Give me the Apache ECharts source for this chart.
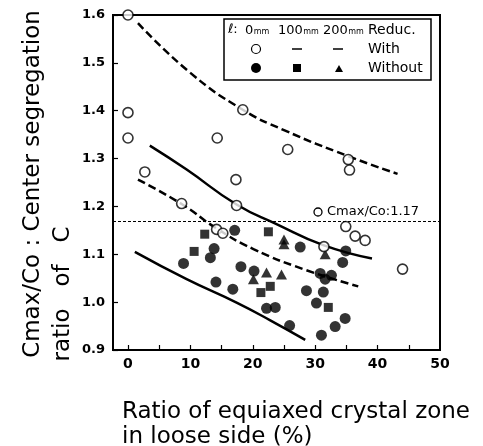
<!DOCTYPE html>
<html>
<head>
<meta charset="utf-8">
<script src="https://cdn.jsdelivr.net/npm/echarts@6/dist/echarts.min.js"></script>
<style>
  html, body { margin: 0; padding: 0; background: #fff; }
  #chart { width: 483px; height: 446px; }
</style>
</head>
<body>
<div id="chart"></div>
<script>
// 数据：ℓ = 0mm / 100mm / 200mm，带压下 (With) 与不带 (Without)
const withReduc0mm = [
  [0, 1.6], [0, 1.396], [0, 1.343], [2.7, 1.272], [8.6, 1.206],
  [14.3, 1.343], [14.2, 1.152], [15.2, 1.144], [17.3, 1.256], [17.4, 1.202],
  [18.4, 1.402], [25.6, 1.319], [31.4, 1.116], [34.9, 1.158], [35.3, 1.298],
  [35.5, 1.276], [36.4, 1.138], [38, 1.129], [44, 1.069]
];
const withoutReduc0mm = [
  [8.9, 1.081], [13.2, 1.093], [13.8, 1.112], [14.1, 1.042], [16.8, 1.027],
  [17.1, 1.15], [18.1, 1.074], [20.2, 1.065], [22.2, 0.987], [23.6, 0.989],
  [25.9, 0.951], [27.6, 1.115], [28.6, 1.024], [30.2, 0.998], [30.8, 1.06],
  [31, 0.931], [31.3, 1.021], [31.6, 1.048], [32.6, 1.056], [33.2, 0.949],
  [34.4, 1.083], [34.8, 0.966], [34.9, 1.107]
];
const withoutReduc100mm = [
  [10.6, 1.106], [12.3, 1.142], [21.3, 1.02], [22.5, 1.147], [22.8, 1.033], [32.1, 0.989]
];
const withoutReduc200mm = [
  [20.1, 1.048], [22.2, 1.062], [24.6, 1.058], [25, 1.131], [25, 1.121], [31.6, 1.1]
];

// 趋势线
const dashUpper = [[1.6, 1.583], [10, 1.479], [18.4, 1.402], [24.9, 1.36], [35.3, 1.305], [43.2, 1.268]];
const solidUpper = [[3.5, 1.327], [9.4, 1.277], [17.4, 1.204], [23.8, 1.163], [31.3, 1.119], [39.1, 1.091]];
const dashLower = [[1.6, 1.256], [8.6, 1.205], [14.2, 1.154], [20.1, 1.111], [28.1, 1.069], [36.9, 1.033]];
const solidLower = [[1.1, 1.105], [9.4, 1.048], [17.4, 0.999], [22.8, 0.962], [28.4, 0.921]];

const refLevel = 1.17;
const xLabels = [0, 10, 20, 30, 40, 50];
const xTicks = [0, 5, 10, 15, 20, 25, 30, 35, 40, 45];

const FONT = 'DejaVu Sans';

const chart = echarts.init(document.getElementById('chart'));

const lineSeries = (data, dashed) => ({
  type: 'line',
  data,
  smooth: 0.5,
  showSymbol: false,
  symbol: 'none',
  silent: true,
  lineStyle: { color: '#000', width: 2.5, type: dashed ? [8, 4] : 'solid' },
  z: 2
});

const txt = (text, x, y, size, extra) => ({
  type: 'text', x, y, z: 11,
  style: Object.assign({ text, font: size + 'px "DejaVu Sans"', fill: '#000', verticalAlign: 'middle' }, extra || {})
});

// 图例中的 "数字+mm"（数字与 mm 底部对齐）
const mmText = (num, x, numWidth) => [
  txt(num, x, 37, 13, { verticalAlign: 'bottom' }),
  txt('mm', x + numWidth + 0.5, 35.8, 8, { verticalAlign: 'bottom' })
];

chart.setOption({
  animation: false,
  backgroundColor: '#fff',
  grid: {
    left: 113, top: 15, right: 43, bottom: 96,
    show: true, borderColor: '#000', borderWidth: 2
  },
  xAxis: {
    type: 'value',
    min: -2.4, max: 50,
    splitLine: { show: false },
    axisLine: { onZero: false, lineStyle: { color: '#000', width: 2 } },
    axisTick: { inside: true, length: 5, lineStyle: { color: '#000', width: 1.2 }, customValues: xTicks },
    axisLabel: {
      customValues: xLabels, color: '#000', fontFamily: FONT, fontWeight: 'bold',
      fontSize: 14, margin: 7
    }
  },
  yAxis: {
    type: 'value',
    min: 0.9, max: 1.6, interval: 0.1,
    splitLine: { show: false },
    axisLine: { show: true, onZero: false, lineStyle: { color: '#000', width: 2 } },
    axisTick: { inside: true, length: 5, lineStyle: { color: '#000', width: 1.2 } },
    axisLabel: {
      color: '#000', fontFamily: FONT, fontWeight: 'bold', fontSize: 13, margin: 8,
      formatter: v => v.toFixed(1)
    }
  },
  series: [
    Object.assign(lineSeries(dashUpper, true), {
      markLine: {
        silent: true, symbol: 'none', label: { show: false },
        lineStyle: { color: '#000', width: 1, type: [3, 2] },
        data: [[{ coord: [-2.4, refLevel] }, { coord: [50, refLevel] }]]
      }
    }),
    lineSeries(solidUpper, false),
    lineSeries(dashLower, true),
    lineSeries(solidLower, false),
    {
      type: 'scatter', data: withReduc0mm, symbol: 'circle', symbolSize: 10,
      itemStyle: { color: '#fff', borderColor: '#000', borderWidth: 1.6 }, z: 4
    },
    {
      type: 'scatter', data: withoutReduc0mm, symbol: 'circle', symbolSize: 11,
      itemStyle: { color: '#000' }, z: 3
    },
    {
      type: 'scatter', data: withoutReduc100mm, symbol: 'rect', symbolSize: 9,
      itemStyle: { color: '#000' }, z: 3
    },
    {
      type: 'scatter', data: withoutReduc200mm, symbol: 'triangle', symbolSize: [11, 10],
      itemStyle: { color: '#000' }, z: 3
    }
  ],
  graphic: [
    // 图例框
    { type: 'rect', shape: { x: 224, y: 19, width: 207, height: 61 },
      style: { fill: '#fff', stroke: '#000', lineWidth: 1.5 }, z: 10 },
    txt('ℓ:', 228, 30, 13),
    ...mmText('0', 245, 8.3),
    ...mmText('100', 278, 24.8),
    ...mmText('200', 323, 24.8),
    txt('Reduc.', 368, 30, 14),
    { type: 'circle', shape: { cx: 256, cy: 49, r: 4.5 }, style: { fill: '#fff', stroke: '#000', lineWidth: 1.2 }, z: 11 },
    { type: 'line', shape: { x1: 292, y1: 49, x2: 302, y2: 49 }, style: { stroke: '#000', lineWidth: 1.5 }, z: 11 },
    { type: 'line', shape: { x1: 333, y1: 49, x2: 343, y2: 49 }, style: { stroke: '#000', lineWidth: 1.5 }, z: 11 },
    txt('With', 368, 49, 14),
    { type: 'circle', shape: { cx: 256, cy: 68, r: 5 }, style: { fill: '#000' }, z: 11 },
    { type: 'rect', shape: { x: 293, y: 64, width: 8, height: 8 }, style: { fill: '#000' }, z: 11 },
    { type: 'polygon', shape: { points: [[339, 65], [343, 72], [335, 72]] }, style: { fill: '#000' }, z: 11 },
    txt('Without', 368, 68, 14),
    // 参考线标注
    { type: 'circle', shape: { cx: 318, cy: 212, r: 4 }, style: { fill: '#fff', stroke: '#000', lineWidth: 1.3 }, z: 11 },
    txt('Cmax/Co:1.17', 327, 212, 13),
    // 轴标题
    Object.assign(txt('Cmax/Co : Center segregation', 33, 184, 23, { align: 'center' }), { rotation: Math.PI / 2 }),
    Object.assign(txt('ratio   of   C', 63, 294, 23, { align: 'center' }), { rotation: Math.PI / 2 }),
    txt('Ratio of equiaxed crystal zone', 122, 412, 23),
    txt('in loose side (%)', 122, 437, 23)
  ]
});
</script>
</body>
</html>
